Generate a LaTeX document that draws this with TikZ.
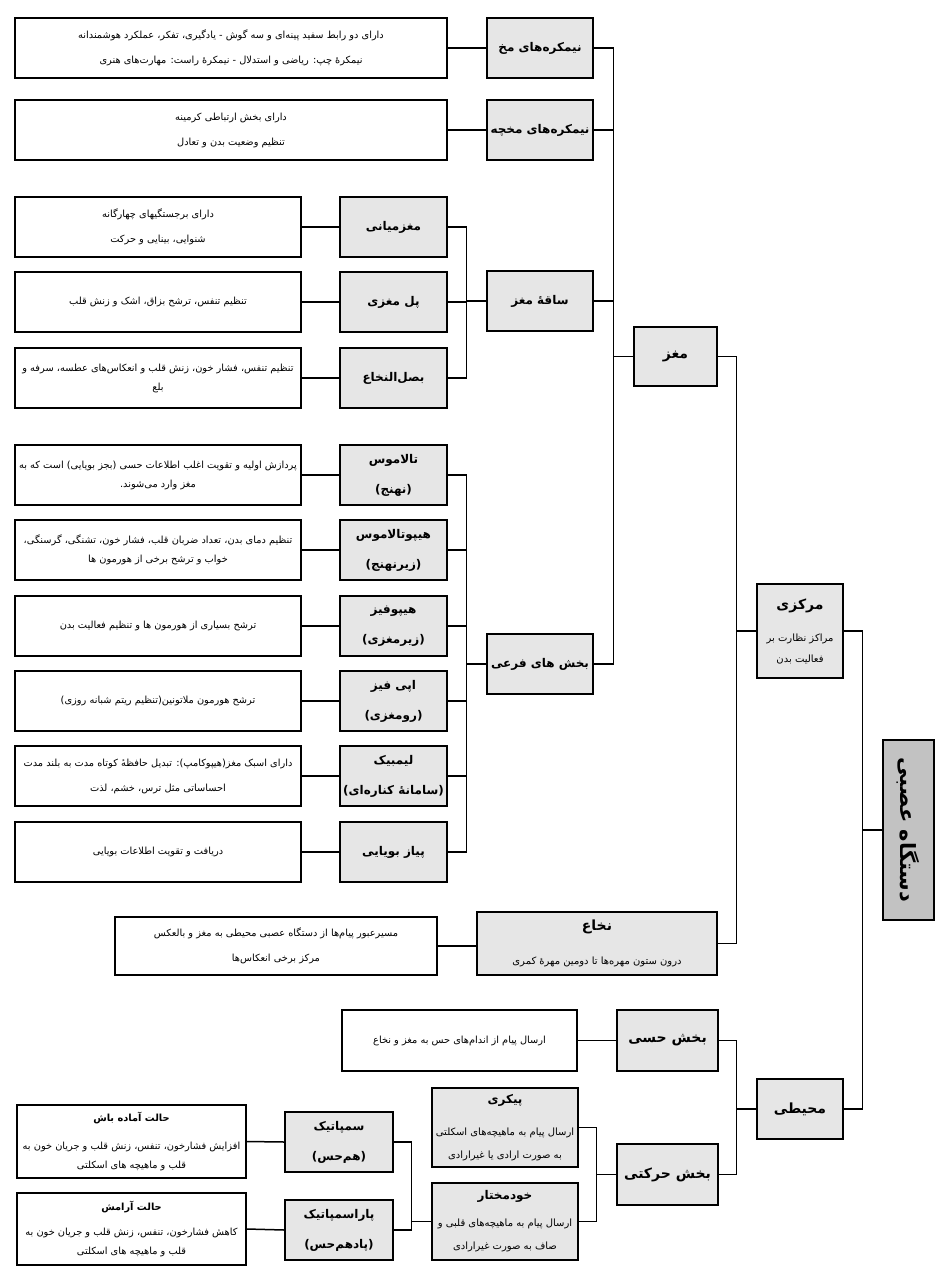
\documentclass[tikz,border=0pt]{standalone}
\usepackage{fontspec}
\usepackage{graphicx}
\newfontfamily\persian[Script=Arabic]{DejaVu Sans}
\TeXXeTstate=1
\usepackage{tikz}
\usetikzlibrary{positioning}
\definecolor{boxgray}{HTML}{E6E6E6}
\definecolor{rootgray}{HTML}{C2C2C2}
\newcommand{\fa}[1]{\beginR#1\endR}
\newcommand{\reg}[1]{{\mdseries\fontsize{10}{17}\selectfont\fa{#1}}}
\newcommand{\ttl}[1]{{\fontsize{14}{17}\selectfont\fa{#1}}}
\newcommand{\branch}[2]{\draw[conn] (#1.east) -| ([xshift=-20pt]#2.west) -- (#2.west);}
\tikzset{
  base/.style   = {draw,line width=1.5pt,inner sep=2pt,align=center},
  desc/.style   = {base,fill=white,font=\persian\fontsize{9.8}{19}\selectfont},
  descL/.style  = {desc,minimum width=286pt,minimum height=60pt},
  part/.style   = {base,fill=boxgray,font=\persian\bfseries\fontsize{12}{30}\selectfont},
  partL/.style  = {part,minimum width=107pt,minimum height=60pt},
  partM/.style  = {part,minimum width=106pt,minimum height=60pt},
  rootbox/.style= {part,fill=rootgray,font=\persian\bfseries\fontsize{21}{24}\selectfont},
  conn/.style   = {line width=1.5pt},
}

\begin{document}
\begin{tikzpicture}[x=1pt,y=-1pt]
  \useasboundingbox (0,0) rectangle (951,1280);
  % root and first level
  \node[rootbox,minimum width=51pt,minimum height=180pt] (root) at (908.5,830)
       {\rotatebox{-90}{\fa{دستگاه عصبی}}};
  \node[part,minimum width=86pt,minimum height=94pt] (markazi) at (800,631)
       {\ttl{مرکزی}\\[2pt]\reg{مراکز نظارت بر}\\[-9pt]\reg{فعالیت بدن}};
  \node[partM,minimum width=86pt] (mohiti) at (800,1109) {\ttl{محیطی}};
  % central part
  \node[part,minimum width=83pt,minimum height=59pt] (maghz) at (675.5,356.5) {\ttl{مغز}};
  \node[part,minimum width=240pt,minimum height=63pt] (nokhaa) at (597,943.5)
       {\ttl{نخاع}\\[4pt]\reg{درون ستون مهره‌ها تا دومین مهرهٔ کمری}};
  \node[desc,minimum width=322pt,minimum height=58pt] (nokhaaD) at (276,946)
       {\fa{مسیرعبور پیام‌ها از دستگاه عصبی محیطی به مغز و بالعکس}\\[6pt]\fa{مرکز برخی انعکاس‌ها}};
  % brain
  \node[partM] (mokh) at (540,48) {\fa{نیمکره‌های مخ}};
  \node[desc,minimum width=432pt,minimum height=60pt] (mokhD) at (231,48)
       {\fa{دارای دو رابط سفید پینه‌ای و سه گوش - یادگیری، تفکر، عملکرد هوشمندانه}\\[6pt]\fa{نیمکرهٔ چپ: ریاضی و استدلال - نیمکرهٔ راست: مهارت‌های هنری}};
  \node[partM] (mokhche) at (540,130) {\fa{نیمکره‌های مخچه}};
  \node[desc,minimum width=432pt,minimum height=60pt] (mokhcheD) at (231,130)
       {\fa{دارای بخش ارتباطی کرمینه}\\[6pt]\fa{تنظیم وضعیت بدن و تعادل}};
  \node[partM] (saqe) at (540,301) {\fa{ساقهٔ مغز}};
  \node[partM] (farei) at (540,664) {\fa{بخش های فرعی}};
  % brain stem
  \node[partL] (miani) at (393.5,227) {\fa{مغزمیانی}};
  \node[descL] (mianiD) at (158,227) {\fa{دارای برجستگیهای چهارگانه}\\[6pt]\fa{شنوایی، بینایی و حرکت}};
  \node[partL] (pol) at (393.5,302) {\fa{پل مغزی}};
  \node[descL] (polD) at (158,302) {\fa{تنظیم تنفس، ترشح بزاق، اشک و زنش قلب}};
  \node[partL] (bassal) at (393.5,378) {\fa{بصل‌النخاع}};
  \node[descL] (bassalD) at (158,378)
       {\fa{تنظیم تنفس، فشار خون، زنش قلب و انعکاس‌های عطسه، سرفه و}\\\fa{بلع}};
  % sub parts
  \node[partL] (thal) at (393.5,475) {\fa{تالاموس}\\\fa{(نهنج)}};
  \node[descL] (thalD) at (158,475)
       {\fa{پردازش اولیه و تقویت اغلب اطلاعات حسی (بجز بویایی) است که به}\\\fa{مغز وارد می‌شوند.}};
  \node[partL] (hypo) at (393.5,550) {\fa{هیپوتالاموس}\\\fa{(زیرنهنج)}};
  \node[descL] (hypoD) at (158,550)
       {\fa{تنظیم دمای بدن، تعداد ضربان قلب، فشار خون، تشنگی، گرسنگی،}\\\fa{خواب و ترشح برخی از هورمون ها}};
  \node[partL] (hypoph) at (393.5,626) {\fa{هیپوفیز}\\\fa{(زیرمغزی)}};
  \node[descL] (hypophD) at (158,626) {\fa{ترشح بسیاری از هورمون ها و تنظیم فعالیت بدن}};
  \node[partL] (epi) at (393.5,701) {\fa{اپی فیز}\\\fa{(رومغزی)}};
  \node[descL] (epiD) at (158,701) {\fa{ترشح هورمون ملاتونین(تنظیم ریتم شبانه روزی)}};
  \node[partL] (limbic) at (393.5,776) {\fa{لیمبیک}\\\fa{(سامانهٔ کناره‌ای)}};
  \node[descL] (limbicD) at (158,776)
       {\fa{دارای اسبک مغز(هیپوکامپ): تبدیل حافظهٔ کوتاه مدت به بلند مدت}\\[6pt]\fa{احساساتی مثل ترس، خشم، لذت}};
  \node[partL] (piaz) at (393.5,852) {\fa{پیاز بویایی}};
  \node[descL] (piazD) at (158,852) {\fa{دریافت و تقویت اطلاعات بویایی}};
  % peripheral part
  \node[part,minimum width=101pt,minimum height=61pt] (hessi) at (667.5,1040.5) {\ttl{بخش حسی}};
  \node[desc,minimum width=235pt,minimum height=61pt] (hessiD) at (459.5,1040.5)
       {\fa{ارسال پیام از اندام‌های حس به مغز و نخاع}};
  \node[part,minimum width=101pt,minimum height=61pt] (harekati) at (667.5,1174.5) {\ttl{بخش حرکتی}};
  \node[part,minimum width=146pt,minimum height=79pt] (peykari) at (505,1127.5)
       {\fa{پیکری}\\[2pt]\reg{ارسال پیام به ماهیچه‌های اسکلتی}\\[-7pt]\reg{به صورت ارادی یا غیرارادی}};
  \node[part,minimum width=146pt,minimum height=77pt] (khod) at (505,1221.5)
       {\fa{خودمختار}\\[-3pt]\reg{ارسال پیام به ماهیچه‌های قلبی و}\\[-7pt]\reg{صاف به صورت غیرارادی}};
  \node[part,minimum width=108pt,minimum height=60pt] (symp) at (339,1142) {\fa{سمپاتیک}\\\fa{(هم‌حس)}};
  \node[part,minimum width=108pt,minimum height=60pt] (para) at (339,1230) {\fa{پاراسمپاتیک}\\\fa{(پادهم‌حس)}};
  \node[desc,minimum width=229pt,minimum height=73pt] (sympD) at (131.5,1141.5)
       {{\bfseries\fa{حالت آماده باش}}\\[9pt]\fa{افزایش فشارخون، تنفس، زنش قلب و جریان خون به}\\\fa{قلب و ماهیچه های اسکلتی}};
  \node[desc,minimum width=229pt,minimum height=72pt] (paraD) at (131.5,1229)
       {{\bfseries\fa{حالت آرامش}}\\[6pt]\fa{کاهش فشارخون، تنفس، زنش قلب و جریان خون به}\\\fa{قلب و ماهیچه های اسکلتی}};
  % connectors
  \foreach \d/\p in {mokhD/mokh,mokhcheD/mokhche,mianiD/miani,polD/pol,bassalD/bassal,
                     thalD/thal,hypoD/hypo,hypophD/hypoph,epiD/epi,limbicD/limbic,
                     piazD/piaz,hessiD/hessi,sympD/symp,paraD/para}
    \draw[conn] (\d.east) -- (\p.west);
  \draw[conn] (nokhaaD.east) -- (nokhaaD.east -| nokhaa.west);
  \foreach \c/\p in {mokh/maghz,mokhche/maghz,saqe/maghz,farei/maghz,
                     miani/saqe,pol/saqe,bassal/saqe,
                     thal/farei,hypo/farei,hypoph/farei,epi/farei,limbic/farei,piaz/farei,
                     maghz/markazi,nokhaa/markazi,markazi/root,mohiti/root,
                     hessi/mohiti,harekati/mohiti,peykari/harekati,khod/harekati,
                     symp/khod,para/khod}
    {\branch{\c}{\p}}
\end{tikzpicture}
\end{document}
